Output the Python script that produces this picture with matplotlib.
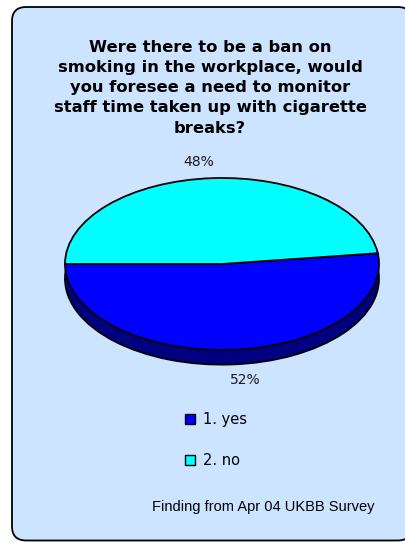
import matplotlib.pyplot as plt
from matplotlib.patches import FancyBboxPatch, Rectangle

# data
labels = ["1. yes", "2. no"]
values = [52, 48]
top_colors = ["#0000FF", "#00FFFF"]
side_colors = ["#000080", "#008080"]
title = ("Were there to be a ban on\nsmoking in the workplace, would\n"
         "you foresee a need to monitor\nstaff time taken up with cigarette\nbreaks?")
footer = "Finding from Apr 04 UKBB Survey"

W, H = 406, 542
fig = plt.figure(figsize=(W / 100, H / 100), dpi=100)
fig.patch.set_facecolor("white")

# rounded background panel
bg = FancyBboxPatch((12 / W, 1.5 / H), (412 - 12) / W, (535 - 1.5) / H,
                    boxstyle="round,pad=0,rounding_size=0.035",
                    transform=fig.transFigure, facecolor="#CCE4FF",
                    edgecolor="black", linewidth=1.3, mutation_aspect=W / H,
                    zorder=-5)
fig.patches.append(bg)

fig.text(210 / W, 1 - 40 / H, title, ha="center", va="top", fontsize=11.8,
         fontweight="bold", linespacing=1.43, family="DejaVu Sans")

# pie axes: squashed to look like a tilted 3D pie
rx, ry = 157, 86          # radii in pixels
cx, cy = 222, 264         # centre in pixels (from top)
xl, yl = 1.25, 1.6
ax = fig.add_axes([(cx - rx * xl) / W, (H - cy - ry * yl) / H,
                   2 * rx * xl / W, 2 * ry * yl / H])
depth = 0.17

ax.pie(values, colors=side_colors, startangle=180, center=(0, -depth),
       wedgeprops=dict(edgecolor="black", linewidth=1.3))
ax.add_patch(Rectangle((-1, -depth), 2, depth, facecolor=side_colors[0],
                       edgecolor="none", zorder=1.5))
wedges, texts, autotexts = ax.pie(values, colors=top_colors, startangle=180,
                                  autopct="%1.0f%%", pctdistance=1.2,
                                  wedgeprops=dict(edgecolor="black", linewidth=1.3),
                                  textprops=dict(fontsize=10, color="#1a1a1a"))
for w in wedges:
    w.set_zorder(2)
autotexts[0].set_position((0.15, -1.35))
autotexts[1].set_position((-0.15, 1.19))
ax.set_aspect("auto")
ax.set_xlim(-xl, xl)
ax.set_ylim(-yl, yl)
ax.axis("off")

# legend
handles = [Rectangle((0, 0), 1, 1, facecolor=c, edgecolor="black") for c in top_colors]
fig.legend(handles, labels, loc="upper left", bbox_to_anchor=(172 / W, 1 - 399 / H),
           frameon=False, fontsize=10.5, handlelength=0.7, handleheight=0.7,
           handletextpad=0.5, labelspacing=1.8)

fig.text(263 / W, 1 - 507 / H, footer, ha="center", va="center", fontsize=10.5,
         family="Liberation Sans")

fig.savefig("out.png", dpi=100)
